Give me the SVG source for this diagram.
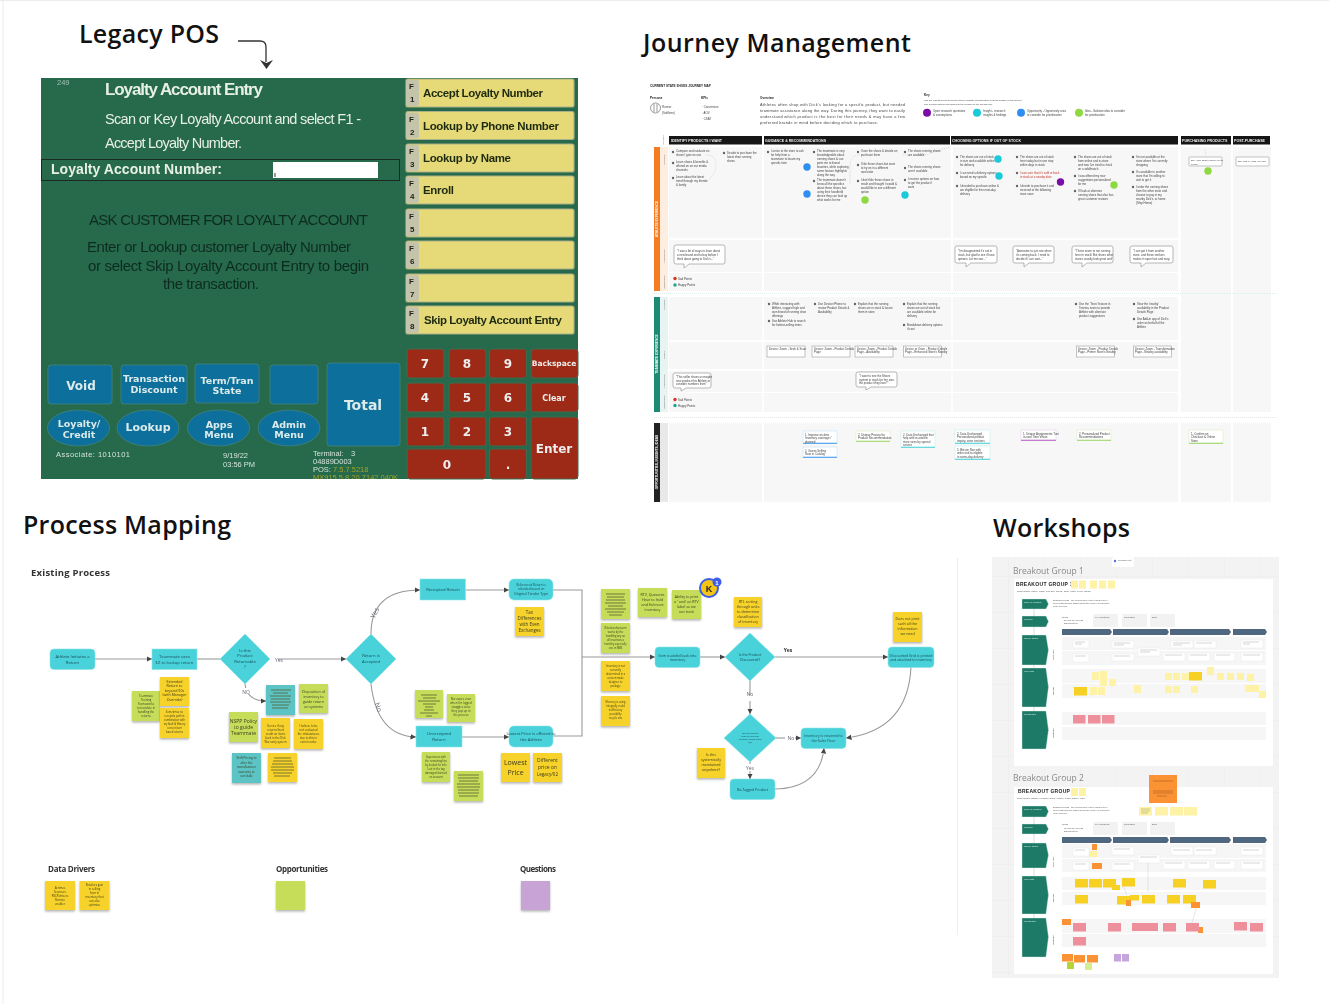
<svg xmlns="http://www.w3.org/2000/svg" width="1329" height="1004" viewBox="0 0 1329 1004">
<defs>
<filter id="b" x="-2%" y="-2%" width="104%" height="104%"><feGaussianBlur stdDeviation="0.35"/></filter>
<filter id="b2" x="-2%" y="-2%" width="104%" height="104%"><feGaussianBlur stdDeviation="0.25"/></filter>
<filter id="sh" x="-20%" y="-20%" width="140%" height="150%"><feDropShadow dx="0" dy="1.5" stdDeviation="1" flood-color="#000" flood-opacity=".3"/></filter>
<marker id="ah" markerWidth="6" markerHeight="6" refX="5" refY="3" orient="auto"><path d="M0 0.5L5 3L0 5.5z" fill="#444"/></marker>
<marker id="ah2" markerWidth="4" markerHeight="4" refX="3" refY="2" orient="auto"><path d="M0 0L4 2L0 4z" fill="#333"/></marker>
<clipPath id="wclip"><rect x="992" y="557" width="287" height="421"/></clipPath>
<clipPath id="posclip"><rect x="41" y="78" width="537" height="401"/></clipPath>
<pattern id="grid" width="36" height="36" patternUnits="userSpaceOnUse"><path d="M36 0H0V36" fill="none" stroke="#e6e6e6" stroke-width=".7"/></pattern>
</defs>
<style>
text{font-family:"Liberation Sans",Arial,sans-serif}
.h{font-family:"Open Sans","Liberation Sans",sans-serif;font-weight:600;font-size:25px;fill:#111}
.sub{font-family:"Open Sans","Liberation Sans",sans-serif;font-weight:700;font-size:8px;fill:#333}
.pl{fill:#e8f0e4;font-size:16px}
.pd{fill:#0f2c20;font-size:15px}
.ft{fill:#d5e4d8;font-size:7.5px}
.fb{fill:#e6da78;stroke:#a9b08a;stroke-width:1.2}
.ftab{fill:#c4c4aa}
.fk{font-weight:700;font-size:8px;fill:#222}
.fl{font-weight:700;font-size:11.5px;fill:#1f2a10}
.bb{fill:#0c6f9c;stroke:#3d7f7a;stroke-width:1}
.bt{font-family:"DejaVu Sans",sans-serif;font-weight:700;font-size:9.5px;fill:#dcebea;text-anchor:middle}
.rb{fill:#9c2a14;stroke:#3f6c52;stroke-width:1}
.rn{font-family:"DejaVu Sans",sans-serif;font-weight:700;font-size:12px;fill:#eee;text-anchor:middle}
.t{font-size:2.9px;fill:#444}
.tb{font-size:3.1px;font-weight:700;fill:#222}
.hd{fill:#141414}
.hdt{font-size:3.6px;font-weight:700;fill:#eee}
.lane{fill:#f7f7f7}
.vl{font-size:3.2px;font-weight:700;fill:#fff;text-anchor:middle}
.vg{font-size:2.4px;fill:#777;text-anchor:middle}
.dot{fill:#666}
.bub{fill:#fff;stroke:#999;stroke-width:.7}
.card{fill:#fff;stroke:#aaa;stroke-width:.7}
.n{fill:#48d2da;stroke:#8ce4e8;stroke-width:.6}
.nt{font-family:"Open Sans","Liberation Sans",sans-serif;font-size:4.2px;fill:#1d4a55;text-anchor:middle}
.nt5{font-family:"Open Sans","Liberation Sans",sans-serif;font-size:5px;fill:#1d4a55;text-anchor:middle}
.sy{fill:#f7d22c;filter:url(#sh)}
.sg{fill:#c6dd5a;filter:url(#sh)}
.st{fill:#5cc4c4;filter:url(#sh)}
.sp{fill:#c8a3d6;filter:url(#sh)}
.so{fill:#ff9c3d;filter:url(#sh)}
.sx{font-family:"Open Sans","Liberation Sans",sans-serif;font-size:3.6px;fill:#3c3c20;text-anchor:middle}
.sx5{font-family:"Open Sans","Liberation Sans",sans-serif;font-size:5px;fill:#3c3c20;text-anchor:middle}
.bars{stroke:#54592a;stroke-width:1;opacity:.75}
.c{fill:none;stroke:#9a9a9a;stroke-width:1.1}
.cl{font-family:"Open Sans","Liberation Sans",sans-serif;font-size:5px;fill:#667;text-anchor:middle}
.gb{fill:#1f7a66;stroke:#d8eee8;stroke-width:.4}
.chev{fill:#50687f}
.row{fill:#f6f6f6}
.wc{fill:#fff;stroke:#e4e4e4;stroke-width:.4}
.ly{fill:#fdf2a6}
.dy{fill:#f6d023}
.pk{fill:#ee8f9c}
.or{fill:#fb9334}
.wt{font-size:2.2px;fill:#555}
.wh{font-size:2px;fill:#d8efe8}
.gt{font-family:"Open Sans","Liberation Sans",sans-serif;font-size:8.5px;fill:#888}
.bk{font-weight:700;font-size:5px;fill:#222;letter-spacing:.3px}
</style>
<rect width="1329" height="1004" fill="#fff"/>
<path d="M3 0V1004M0 .5H1329" stroke="#ececec" fill="none"/>
<path d="M957.500 558V935" stroke="#eeeeee" fill="none"/>

<text id="title-legacy" class="h" x="79" y="43" textLength="140">Legacy POS</text>
<text id="title-journey" class="h" x="643" y="52" textLength="268">Journey Management</text>
<text id="title-process" class="h" x="23" y="534" textLength="208">Process Mapping</text>
<text id="title-workshops" class="h" x="993" y="537" textLength="137">Workshops</text>
<g id="legacy-arrow"><path d="M238 41H260Q266 41 266 47V62" fill="none" stroke="#333" stroke-width="1.3"/><path d="M260 60L266.500 69L273 60L266.500 63z" fill="#333"/></g>

<g id="pos-screen" filter="url(#b)">
<rect x="41" y="78" width="537" height="401" fill="#25694b"/>
<text x="57" y="85" class="ft" fill-opacity=".7">249</text>
<text x="105" y="95" class="pl" font-weight="700" textLength="158" style="font-size:17px">Loyalty Account Entry</text>
<text x="105" y="124" class="pl" textLength="256" style="font-size:14.500px">Scan or Key Loyalty Account and select F1 -</text>
<text x="105" y="148" class="pl" textLength="137" style="font-size:14.500px">Accept Loyalty Number.</text>
<rect x="41.500" y="159.500" width="358" height="21" fill="none" stroke="#1c2a24" stroke-width="1"/>
<text x="51" y="174" class="pl" font-weight="700" textLength="171" style="font-size:14px">Loyalty Account Number:</text>
<rect x="273" y="162" width="105" height="16" fill="#fff"/><path d="M275 173V177" stroke="#333"/>
<text x="89" y="225" class="pd" textLength="279">ASK CUSTOMER FOR LOYALTY ACCOUNT</text>
<text x="87" y="252" class="pd" textLength="264">Enter or Lookup customer Loyalty Number</text>
<text x="88" y="271" class="pd" textLength="281">or select Skip Loyalty Account Entry to begin</text>
<text x="163" y="289" class="pd" textLength="96">the transaction.</text>
<text x="56" y="457" class="ft" textLength="74">Associate: 1010101</text>
<text x="223" y="458" class="ft">9/19/22</text><text x="223" y="467" class="ft">03:56 PM</text>
<text x="313" y="456" class="ft">Terminal:</text><text x="351" y="456" class="ft">3</text>
<text x="313" y="464" class="ft">04889D003</text>
<text x="313" y="472" class="ft">POS:</text><text x="333" y="472" class="ft" style="fill:#a3a32a">7.5.7.5218</text>
<text x="313" y="480" class="ft" style="fill:#a3a32a" clip-path="url(#posclip)">MX915 5.8.20.7142.040K</text>

<g id="f1"><rect class="fb" x="406" y="79" width="168" height="28" rx="2"/><rect class="ftab" x="406" y="80" width="13" height="26" rx="2"/><text class="fk" x="409" y="89">F</text><text class="fk" x="410" y="102">1</text><text class="fl" x="423" y="97" textLength="120">Accept Loyalty Number</text></g>
<g id="f2"><rect class="fb" x="406" y="111.500" width="168" height="28" rx="2"/><rect class="ftab" x="406" y="112.500" width="13" height="26" rx="2"/><text class="fk" x="409" y="121.500">F</text><text class="fk" x="410" y="134.500">2</text><text class="fl" x="423" y="130" textLength="136">Lookup by Phone Number</text></g>
<g id="f3"><rect class="fb" x="406" y="144" width="168" height="28" rx="2"/><rect class="ftab" x="406" y="145" width="13" height="26" rx="2"/><text class="fk" x="409" y="154">F</text><text class="fk" x="410" y="167">3</text><text class="fl" x="423" y="162" textLength="88">Lookup by Name</text></g>
<g id="f4"><rect class="fb" x="406" y="176" width="168" height="28" rx="2"/><rect class="ftab" x="406" y="177" width="13" height="26" rx="2"/><text class="fk" x="409" y="186">F</text><text class="fk" x="410" y="199">4</text><text class="fl" x="423" y="194" textLength="31">Enroll</text></g>
<g id="f5"><rect class="fb" x="406" y="209" width="168" height="28" rx="2"/><rect class="ftab" x="406" y="210" width="13" height="26" rx="2"/><text class="fk" x="409" y="219">F</text><text class="fk" x="410" y="232">5</text></g>
<g id="f6"><rect class="fb" x="406" y="241" width="168" height="28" rx="2"/><rect class="ftab" x="406" y="242" width="13" height="26" rx="2"/><text class="fk" x="409" y="251">F</text><text class="fk" x="410" y="264">6</text></g>
<g id="f7"><rect class="fb" x="406" y="274" width="168" height="28" rx="2"/><rect class="ftab" x="406" y="275" width="13" height="26" rx="2"/><text class="fk" x="409" y="284">F</text><text class="fk" x="410" y="297">7</text></g>
<g id="f8"><rect class="fb" x="406" y="306" width="168" height="28" rx="2"/><rect class="ftab" x="406" y="307" width="13" height="26" rx="2"/><text class="fk" x="409" y="316">F</text><text class="fk" x="410" y="329">8</text><text class="fl" x="424" y="324" textLength="138">Skip Loyalty Account Entry</text></g>

<g id="btn-void"><rect class="bb" x="48" y="365" width="64" height="39" rx="3"/><text class="bt" x="81" y="390" style="font-size:12px">Void</text></g>
<g id="btn-discount"><rect class="bb" x="121" y="365" width="66" height="39" rx="3"/><text class="bt" x="154" y="382">Transaction</text><text class="bt" x="154" y="393">Discount</text></g>
<g id="btn-term"><rect class="bb" x="195" y="364" width="64" height="39" rx="3"/><text class="bt" x="227" y="384">Term/Tran</text><text class="bt" x="227" y="394">State</text></g>
<g id="btn-blank"><rect class="bb" x="270" y="365" width="48" height="39" rx="3"/></g>
<g id="btn-total"><rect class="bb" x="327" y="363" width="73" height="83" rx="3"/><text class="bt" x="363" y="410" style="font-size:14px">Total</text></g>
<g id="btn-loyalty"><ellipse class="bb" cx="78.500" cy="428" rx="31" ry="18"/><text class="bt" x="79" y="427">Loyalty/</text><text class="bt" x="79" y="438">Credit</text></g>
<g id="btn-lookup"><ellipse class="bb" cx="148" cy="428" rx="31" ry="18"/><text class="bt" x="148" y="431" style="font-size:11px">Lookup</text></g>
<g id="btn-apps"><ellipse class="bb" cx="218.500" cy="428" rx="31" ry="18"/><text class="bt" x="219" y="428">Apps</text><text class="bt" x="219" y="438">Menu</text></g>
<g id="btn-admin"><ellipse class="bb" cx="289" cy="428" rx="31" ry="18"/><text class="bt" x="289" y="428">Admin</text><text class="bt" x="289" y="438">Menu</text></g>

<g id="keypad">
<rect class="rb" x="407" y="349" width="37" height="29" rx="3"/><text class="rn" x="425" y="368">7</text>
<rect class="rb" x="449" y="349" width="37" height="29" rx="3"/><text class="rn" x="467" y="368">8</text>
<rect class="rb" x="489.500" y="349" width="37" height="29" rx="3"/><text class="rn" x="508" y="368">9</text>
<rect class="rb" x="531" y="349" width="47" height="29" rx="3"/><text class="rn" x="554" y="366" style="font-size:7.500px" >Backspace</text>
<rect class="rb" x="407" y="383" width="37" height="29" rx="3"/><text class="rn" x="425" y="402">4</text>
<rect class="rb" x="449" y="383" width="37" height="29" rx="3"/><text class="rn" x="467" y="402">5</text>
<rect class="rb" x="489.500" y="383" width="37" height="29" rx="3"/><text class="rn" x="508" y="402">6</text>
<rect class="rb" x="531" y="383" width="47" height="29" rx="3"/><text class="rn" x="554" y="401" style="font-size:8px">Clear</text>
<rect class="rb" x="407" y="417" width="37" height="29" rx="3"/><text class="rn" x="425" y="436">1</text>
<rect class="rb" x="449" y="417" width="37" height="29" rx="3"/><text class="rn" x="467" y="436">2</text>
<rect class="rb" x="489.500" y="417" width="37" height="29" rx="3"/><text class="rn" x="508" y="436">3</text>
<rect class="rb" x="531" y="417" width="47" height="62" rx="3"/><text class="rn" x="554" y="453">Enter</text>
<rect class="rb" x="407" y="449" width="79" height="30" rx="3"/><text class="rn" x="447" y="469">0</text>
<rect class="rb" x="489.500" y="449" width="37" height="30" rx="3"/><text class="rn" x="508" y="469">.</text>
</g>
</g>

<g id="journey" filter="url(#b)">
<text class="tb" x="650" y="87">CURRENT STATE SHOES JOURNEY MAP</text>
<text class="tb" x="650" y="98.500">Persona</text><text class="tb" x="701" y="98.500">KPIs</text><text class="tb" x="760" y="98.500">Overview</text><text class="tb" x="924" y="95.500">Key</text>
<circle cx="655.500" cy="108" r="5" fill="#fff" stroke="#555" stroke-width=".6"/><path d="M654 104V112M657 104V112" stroke="#555" stroke-width=".6"/>
<text class="t" x="662" y="108">Runner</text><text class="t" x="662" y="114">(Softlines)</text>
<text class="t" x="702" y="108">· Conversion</text><text class="t" x="702" y="114">· AOV</text><text class="t" x="702" y="120">· CSAT</text>
<g class="t" style="font-size:3.900px"><text x="760" y="106" textLength="145">Athletes often shop with Dick's looking for a specific product, but needed</text><text x="760" y="111.500" textLength="145">teammate assistance along the way. During this journey, they want to easily</text><text x="760" y="117.500" textLength="145">understand which product is the best for their needs &amp; may have a few</text><text x="760" y="123.500" textLength="118">preferred brands in mind before deciding which to purchase.</text></g>
<text class="t" x="924" y="100.500" style="font-size:2.400px">Use the visuals below to denote where insights, opportunities, &amp; ideas surface in this journey.</text>
<text class="t" x="924" y="104.500" style="font-size:2.400px">The number should correspond to the number in the specific box.</text>
<circle cx="927" cy="112.700" r="4" fill="#7a0ea8"/><text class="t" x="933" y="112">Open research questions</text><text class="t" x="933" y="116">&amp; assumptions</text>
<circle cx="977" cy="112.700" r="4" fill="#1dc9d8"/><text class="t" x="983" y="112">Insight - research</text><text class="t" x="983" y="116">insights &amp; findings</text>
<circle cx="1021" cy="112.700" r="4" fill="#2f8ff0"/><text class="t" x="1027" y="112">Opportunity - Opportunity area</text><text class="t" x="1027" y="116">to consider for prioritization</text>
<circle cx="1079" cy="112.700" r="4" fill="#8ed840"/><text class="t" x="1085" y="112">Idea - Solution idea to consider</text><text class="t" x="1085" y="116">for prioritization</text>

<rect class="hd" x="669" y="136" width="93" height="8.500"/><text class="hdt" x="671" y="141.800">IDENTIFY PRODUCTS I WANT</text>
<rect class="hd" x="764" y="136" width="186" height="8.500"/><text class="hdt" x="765" y="141.800">GUIDANCE &amp; RECOMMENDATIONS</text>
<rect class="hd" x="951" y="136" width="227" height="8.500"/><text class="hdt" x="952" y="141.800">CHOOSING OPTIONS IF OUT OF STOCK</text>
<rect class="hd" x="1181" y="136" width="50" height="8.500"/><text class="hdt" x="1182" y="141.800">PURCHASING PRODUCTS</text>
<rect class="hd" x="1233" y="136" width="37" height="8.500"/><text class="hdt" x="1234" y="141.800">POST-PURCHASE</text>
<text class="vg" transform="translate(664 140)rotate(-90)">STAGES</text>

<rect x="654" y="147" width="6" height="144" fill="#f47b20"/><rect x="660" y="147" width="8" height="144" fill="#fdeee0"/>
<text class="vl" transform="translate(658.200 219)rotate(-90)">ATHLETE EXPERIENCE</text>
<text class="vg" transform="translate(665 160)rotate(-90)">ACTIONS</text><text class="vg" transform="translate(665 256)rotate(-90)">THOUGHTS</text><text class="vg" transform="translate(665 282)rotate(-90)">EMOTIONS</text>
<rect class="lane" x="669" y="147" width="93" height="91"/><rect class="lane" x="764" y="147" width="187" height="91"/><rect class="lane" x="953" y="147" width="225" height="91"/>
<rect class="lane" x="669" y="240" width="93" height="32"/><rect class="lane" x="764" y="240" width="187" height="32"/><rect class="lane" x="953" y="240" width="225" height="32"/>
<rect class="lane" x="669" y="273" width="93" height="18"/><rect class="lane" x="764" y="273" width="187" height="18"/><rect class="lane" x="953" y="273" width="225" height="18"/>
<rect class="lane" x="1181" y="147" width="50" height="265"/><rect class="lane" x="1233" y="147" width="38" height="265"/>
<path d="M654 293.500H1277" stroke="#cfe6de" stroke-width=".7" stroke-dasharray="1 1"/>
<path d="M654 417.500H1277" stroke="#ddd" stroke-width=".7" stroke-dasharray="1 1"/>

<g fill="none" stroke="#bbb" stroke-width=".5" stroke-dasharray="1 1"><path d="M706 155Q716 155 716 165T706 182"/><path d="M860 155Q850 155 850 165V185"/><path d="M903 155H925L950 147"/><path d="M1205 150L1206 156"/></g>
<g id="j-actions">
<circle class="dot" cx="673" cy="152" r="1.200"/><text class="t" x="676" y="152">Compare and evaluate on</text><text class="t" x="676" y="156">shoes I gain on use</text>
<circle class="dot" cx="673" cy="163" r="1.200"/><text class="t" x="676" y="163">Learn shoes &amp; benefits &amp;</text><text class="t" x="676" y="167">offered on on our media</text><text class="t" x="676" y="171">channels</text>
<circle class="dot" cx="673" cy="178" r="1.200"/><text class="t" x="676" y="178">Learn about the latest</text><text class="t" x="676" y="182">trend through my friends</text><text class="t" x="676" y="186">&amp; family</text>
<circle class="dot" cx="724" cy="153" r="1.200"/><text class="t" x="727" y="154">Decide to purchase the</text><text class="t" x="727" y="158">latest shoe running</text><text class="t" x="727" y="162">shoes</text>
<circle class="dot" cx="768" cy="152" r="1.200"/><text class="t" x="771" y="152">I arrive at the store to ask</text><text class="t" x="771" y="156">for help from a</text><text class="t" x="771" y="160">teammate to locate my</text><text class="t" x="771" y="164">specific item</text>
<circle class="dot" cx="814" cy="152" r="1.200"/><text class="t" x="817" y="152">The teammate is very</text><text class="t" x="817" y="156">knowledgeable about</text><text class="t" x="817" y="160">running shoes &amp; can</text><text class="t" x="817" y="164">point me to brand</text><text class="t" x="817" y="168">favorites, while exploring</text><text class="t" x="817" y="172">some feature highlights</text><text class="t" x="817" y="176">along the way</text>
<circle class="dot" cx="814" cy="181" r="1.200"/><text class="t" x="817" y="181">The teammate doesn't</text><text class="t" x="817" y="185">know all the specifics</text><text class="t" x="817" y="189">about these shoes, but</text><text class="t" x="817" y="193">using their handheld</text><text class="t" x="817" y="197">device they can look up</text><text class="t" x="817" y="201">what works for me</text>
<circle class="dot" cx="858" cy="152" r="1.200"/><text class="t" x="861" y="152">I love the shoes &amp; decide on</text><text class="t" x="861" y="156">purchase them</text>
<circle class="dot" cx="858" cy="165" r="1.200"/><text class="t" x="861" y="165">I like these shoes but want</text><text class="t" x="861" y="169">to try on in a different</text><text class="t" x="861" y="173">size/color</text>
<circle class="dot" cx="858" cy="181" r="1.200"/><text class="t" x="861" y="181">I don't like these shoes in</text><text class="t" x="861" y="185">result and thought I would &amp;</text><text class="t" x="861" y="189">would like to see a different</text><text class="t" x="861" y="193">option</text>
<circle class="dot" cx="905" cy="152" r="1.200"/><text class="t" x="908" y="152">The shoes running shoes</text><text class="t" x="908" y="156">are available</text>
<circle class="dot" cx="905" cy="168" r="1.200"/><text class="t" x="908" y="168">The shoes running shoes</text><text class="t" x="908" y="172">aren't available</text>
<circle class="dot" cx="905" cy="180" r="1.200"/><text class="t" x="908" y="180">I receive options on how</text><text class="t" x="908" y="184">to get the product I</text><text class="t" x="908" y="188">want</text>
<circle class="dot" cx="957" cy="157" r="1.200"/><text class="t" x="960" y="158">The shoes are out of stock</text><text class="t" x="960" y="162">in size and available online</text><text class="t" x="960" y="166">for delivery</text>
<circle class="dot" cx="957" cy="173" r="1.200"/><text class="t" x="960" y="174">I can send a delivery options</text><text class="t" x="960" y="178">based on my specific</text>
<circle class="dot" cx="957" cy="186" r="1.200"/><text class="t" x="960" y="187">I decided to purchase online &amp;</text><text class="t" x="960" y="191">am eligible for free next-day</text><text class="t" x="960" y="195">delivery</text>
<circle class="dot" cx="1017" cy="157" r="1.200"/><text class="t" x="1020" y="158">The shoes are out of stock</text><text class="t" x="1020" y="162">here today but in one stop</text><text class="t" x="1020" y="166">within days in stock</text>
<circle class="dot" cx="1017" cy="173" r="1.200"/><text class="t" x="1020" y="174" style="fill:#c0392b">I was sure that it's sold or back</text><text class="t" x="1020" y="178" style="fill:#c0392b">in stock at a nearby date</text>
<circle class="dot" cx="1017" cy="186" r="1.200"/><text class="t" x="1020" y="187">I decide to purchase it and</text><text class="t" x="1020" y="191">received at the following</text><text class="t" x="1020" y="195">store soon</text>
<circle class="dot" cx="1075" cy="157" r="1.200"/><text class="t" x="1078" y="158">The shoes are out of stock</text><text class="t" x="1078" y="162">from online and in-store</text><text class="t" x="1078" y="166">and now I've tried to check</text><text class="t" x="1078" y="170">on a sold/match</text>
<circle class="dot" cx="1075" cy="176" r="1.200"/><text class="t" x="1078" y="177">I was offered my new</text><text class="t" x="1078" y="181">suggestions personalized</text><text class="t" x="1078" y="185">for me</text>
<circle class="dot" cx="1075" cy="191" r="1.200"/><text class="t" x="1078" y="192">I'll look at alternate</text><text class="t" x="1078" y="196">running shoes that also has</text><text class="t" x="1078" y="200">great customer reviews</text>
<circle class="dot" cx="1133" cy="157" r="1.200"/><text class="t" x="1136" y="158">I'm not available at the</text><text class="t" x="1136" y="162">store where I'm currently</text><text class="t" x="1136" y="166">shopping</text>
<circle class="dot" cx="1133" cy="172" r="1.200"/><text class="t" x="1136" y="173">It's available in another</text><text class="t" x="1136" y="177">store that I'm willing to</text><text class="t" x="1136" y="181">visit to get it</text>
<circle class="dot" cx="1133" cy="187" r="1.200"/><text class="t" x="1136" y="188">I order the running shoes</text><text class="t" x="1136" y="192">from the other store and</text><text class="t" x="1136" y="196">choose to pay in my</text><text class="t" x="1136" y="200">nearby Dick's, or home</text><text class="t" x="1136" y="204">(Ship Home)</text>
<rect class="card" x="1189" y="157" width="33" height="9" rx="1"/><text class="t" x="1191" y="161" style="font-size:2.500px">Buy "The Best in-store I'm so</text><text class="t" x="1191" y="164.500" style="font-size:2.500px">loving</text>
<rect class="card" x="1236" y="157" width="33" height="9" rx="1"/><text class="t" x="1238" y="162" style="font-size:2.500px">Buy and in "This you use"</text>
</g>
<g id="j-badges">
<circle cx="807" cy="167" r="3.700" fill="#2f8ff0"/><circle cx="807" cy="194" r="3.700" fill="#2f8ff0"/><circle cx="865" cy="200" r="3.700" fill="#8ed840"/><circle cx="905" cy="195" r="3.700" fill="#1dc9d8"/><circle cx="998" cy="159" r="3.700" fill="#1dc9d8"/><circle cx="999" cy="176" r="3.700" fill="#1dc9d8"/><circle cx="1060.500" cy="182" r="3.700" fill="#7a0ea8"/><circle cx="1114" cy="185" r="3.700" fill="#8ed840"/><circle cx="1208" cy="171" r="3.700" fill="#8ed840"/>
</g>
<g id="j-bubbles">
<path class="bub" d="M676 245H723Q725 245 725 247V262Q725 264 723 264H689L684 268V264H676Q674 264 674 262V247Q674 245 676 245z"/><text class="t" x="677" y="252">"I was a bit of ways to learn about</text><text class="t" x="677" y="256">a new brand and to buy before I</text><text class="t" x="677" y="260">think about going to Dick's..."</text>
<path class="bub" d="M957 246H995Q997 246 997 248V261Q997 263 995 263H971L966 267V263H957Q955 263 955 261V248Q955 246 957 246z"/><text class="t" x="958" y="252">"I'm disappointed it's not in</text><text class="t" x="958" y="256">stock, but glad to see if have</text><text class="t" x="958" y="260">options. Let me see..."</text>
<path class="bub" d="M1015 246H1052Q1054 246 1054 248V261Q1054 263 1052 263H1029L1024 267V263H1015Q1013 263 1013 261V248Q1013 246 1015 246z"/><text class="t" x="1016" y="252">"Awesome to just see when</text><text class="t" x="1016" y="256">it's coming back. I need to</text><text class="t" x="1016" y="260">decide if I can wait..."</text>
<path class="bub" d="M1074 246H1111Q1113 246 1113 248V261Q1113 263 1111 263H1087L1082 267V263H1074Q1072 263 1072 261V248Q1072 246 1074 246z"/><text class="t" x="1075" y="252">"These seem to not running</text><text class="t" x="1075" y="256">here in stock! But shoes other</text><text class="t" x="1075" y="260">stores usually look great and"</text>
<path class="bub" d="M1132 246H1171Q1173 246 1173 248V261Q1173 263 1171 263H1146L1141 267V263H1132Q1130 263 1130 261V248Q1130 246 1132 246z"/><text class="t" x="1133" y="252">"I can get it from another</text><text class="t" x="1133" y="256">store. and these seekers</text><text class="t" x="1133" y="260">makes it super fast and easy</text>
</g>
<circle cx="675" cy="278.500" r="1.700" fill="#d8341f"/><text class="t" x="678" y="279.500">Sad Points</text>
<circle cx="675" cy="285" r="1.700" fill="#1aa88e"/><text class="t" x="678" y="286">Happy Points</text>

<rect x="654" y="297" width="6" height="115" fill="#1f8a74"/><rect x="660" y="297" width="8" height="115" fill="#e8f4f2"/>
<text class="vl" transform="translate(658.200 354)rotate(-90)">TEAMMATE EXPERIENCE</text>
<text class="vg" transform="translate(665 305)rotate(-90)">ACTIONS</text><text class="vg" transform="translate(665 355)rotate(-90)">TOOLS</text><text class="vg" transform="translate(665 381)rotate(-90)">THOUGHTS</text><text class="vg" transform="translate(665 402)rotate(-90)">EMOTIONS</text>
<rect class="lane" x="669" y="297" width="509" height="43"/><rect class="lane" x="669" y="342" width="509" height="27"/><rect x="669" y="371" width="509" height="21" class="lane"/><rect class="lane" x="669" y="393" width="509" height="19"/>
<path d="M763 297V412M952 297V412" stroke="#fff" stroke-width="1.500"/>
<g id="j-teammate">
<circle class="dot" cx="769" cy="304" r="1.200"/><text class="t" x="772" y="305">While interacting with</text><text class="t" x="772" y="309">Athlete, suggest high and</text><text class="t" x="772" y="313">own brand of running shoe</text><text class="t" x="772" y="317">offerings</text>
<circle class="dot" cx="769" cy="321" r="1.200"/><text class="t" x="772" y="322">Use Athlete Hub to search</text><text class="t" x="772" y="326">for hottest-selling items</text>
<circle class="dot" cx="815" cy="304" r="1.200"/><text class="t" x="818" y="305">Use Device iPhone to</text><text class="t" x="818" y="309">review Product Details &amp;</text><text class="t" x="818" y="313">Availability</text>
<circle class="dot" cx="855" cy="304" r="1.200"/><text class="t" x="858" y="305">Explain that the running</text><text class="t" x="858" y="309">shoes are in stock &amp; locate</text><text class="t" x="858" y="313">them in store</text>
<circle class="dot" cx="904" cy="304" r="1.200"/><text class="t" x="907" y="305">Explain that the running</text><text class="t" x="907" y="309">shoes are out of stock but</text><text class="t" x="907" y="313">are available online for</text><text class="t" x="907" y="317">delivery</text>
<circle class="dot" cx="904" cy="325" r="1.200"/><text class="t" x="907" y="326">Breakdown delivery options</text><text class="t" x="907" y="330">if cost</text>
<circle class="dot" cx="1076" cy="304" r="1.200"/><text class="t" x="1079" y="305">Use the 'Tesis' feature in</text><text class="t" x="1079" y="309">Tesistra seats to provide</text><text class="t" x="1079" y="313">Athlete with alternate</text><text class="t" x="1079" y="317">product suggestions</text>
<circle class="dot" cx="1134" cy="304" r="1.200"/><text class="t" x="1137" y="305">View the 'nearby'</text><text class="t" x="1137" y="309">availability in the Product</text><text class="t" x="1137" y="313">Details Page</text>
<circle class="dot" cx="1134" cy="319" r="1.200"/><text class="t" x="1137" y="320">Use Add-in app of Dick's</text><text class="t" x="1137" y="324">order on behalf of the</text><text class="t" x="1137" y="328">Athlete</text>
<rect class="card" x="767" y="346" width="38" height="11"/><text class="t" x="769" y="349.500">Device: Zoom - Seek &amp; Scan</text>
<rect class="card" x="812" y="346" width="38" height="11"/><text class="t" x="814" y="349.500">Device: Zoom - Product Details</text><text class="t" x="814" y="353">Page</text>
<rect class="card" x="855" y="346" width="38" height="11"/><text class="t" x="857" y="349.500">Device: Zoom - Product Details</text><text class="t" x="857" y="353">Page - Availability</text>
<rect class="card" x="903.500" y="346" width="38" height="11"/><text class="t" x="905" y="349.500">Device or Orion - Product Details</text><text class="t" x="905" y="353">Page - Enhanced Store's Nearby</text>
<rect class="card" x="1076.500" y="346" width="38" height="11"/><text class="t" x="1078" y="349.500">Device: Zoom - Product Details</text><text class="t" x="1078" y="353">Page - Primer Store's Nearby</text>
<rect class="card" x="1133.500" y="346" width="38" height="11"/><text class="t" x="1135" y="349.500">Device: Zoom - Transformation</text><text class="t" x="1135" y="353">Page - Nearby availability</text>
<path class="bub" d="M675 373H709Q711 373 711 375V386Q711 388 709 388H686L681 391V388H675Q673 388 673 386V375Q673 373 675 373z"/><text class="t" x="676" y="378">"This seller shoes as maybe</text><text class="t" x="676" y="381.500">new product this Athlete or</text><text class="t" x="676" y="385">consider numbers from"</text>
<path class="bub" d="M858 372H895Q897 372 897 374V385Q897 387 895 387H871L866 390V387H858Q856 387 856 385V374Q856 372 858 372z"/><text class="t" x="859" y="377">"I want to see the Shoes</text><text class="t" x="859" y="380.500">system in stock for her size.</text><text class="t" x="859" y="384">the product they love?"</text>
</g>
<circle cx="675" cy="399.500" r="1.700" fill="#d8341f"/><text class="t" x="678" y="400.500">Sad Points</text>
<circle cx="675" cy="405.500" r="1.700" fill="#1aa88e"/><text class="t" x="678" y="406.500">Happy Points</text>

<rect x="654" y="423" width="6" height="79" fill="#222"/><rect x="660" y="423" width="8" height="79" fill="#e8e8e8"/>
<text class="vl" transform="translate(658.200 462)rotate(-90)">OPPORTUNITIES, INSIGHTS, IDEAS</text>
<rect class="lane" x="669" y="423" width="93" height="79"/><rect class="lane" x="764" y="423" width="414" height="79"/><rect class="lane" x="1181" y="423" width="50" height="79"/><rect class="lane" x="1233" y="423" width="38" height="79"/>
<g id="j-cards">
<rect x="803" y="431" width="34" height="12" fill="#fff" stroke="#b8dcf8" stroke-width=".5"/><path d="M803 443.300H837" stroke="#3e9cf0" stroke-width="1"/><text class="t" x="805" y="435.500">1. Improve on-time</text><text class="t" x="805" y="439">Inventory coverage /</text><text class="t" x="805" y="442.500">planned</text>
<rect x="803" y="447" width="34" height="10" fill="#fff" stroke="#b8dcf8" stroke-width=".5"/><path d="M803 457.300H837" stroke="#3e9cf0" stroke-width="1"/><text class="t" x="805" y="451.500">2. Guess Selling</text><text class="t" x="805" y="455">Rate in Catalog</text>
<rect x="856" y="431" width="34" height="10" fill="#fff" stroke="#d4ecb8" stroke-width=".5"/><path d="M856 441.300H890" stroke="#9cd66a" stroke-width="1"/><text class="t" x="858" y="435.500">2. Unique Privacy for</text><text class="t" x="858" y="439">Product Recommendation</text>
<rect x="901" y="431" width="34" height="16" fill="#fff" stroke="#b8eef0" stroke-width=".5"/><path d="M901 447.300H935" stroke="#48d2da" stroke-width="1"/><text class="t" x="903" y="435.500">2. Data Unchanged that</text><text class="t" x="903" y="439">help with in-store/in</text><text class="t" x="903" y="442.500">store sizes by special</text><text class="t" x="903" y="446">service</text>
<rect x="955" y="430" width="35" height="13" fill="#fff" stroke="#b8eef0" stroke-width=".5"/><path d="M955 443.300H990" stroke="#48d2da" stroke-width="1"/><text class="t" x="957" y="434.500">2. Data Unchanged</text><text class="t" x="957" y="438">Personalized product</text><text class="t" x="957" y="441.500">inquiry, zone sections</text>
<rect x="955" y="446" width="35" height="13" fill="#fff" stroke="#b8eef0" stroke-width=".5"/><path d="M955 459.300H990" stroke="#48d2da" stroke-width="1"/><text class="t" x="957" y="450.500">5. Bitcoin Ran with</text><text class="t" x="957" y="454">order and to eligible</text><text class="t" x="957" y="457.500">in same-day delivery</text>
<rect x="1021" y="430" width="35" height="10" fill="#fff" stroke="#e4c4ec" stroke-width=".5"/><path d="M1021 440.300H1056" stroke="#b562c9" stroke-width="1"/><text class="t" x="1023" y="434.500">1. Unique Assignments Turn</text><text class="t" x="1023" y="438">in-seat Time Vision</text>
<rect x="1077" y="430" width="34" height="10" fill="#fff" stroke="#d4ecb8" stroke-width=".5"/><path d="M1077 440.300H1111" stroke="#9cd66a" stroke-width="1"/><text class="t" x="1079" y="434.500">2. Personalized Product</text><text class="t" x="1079" y="438">Recommendations</text>
<rect x="1189" y="430" width="34" height="13" fill="#fff" stroke="#d4ecb8" stroke-width=".5"/><path d="M1189 443.300H1223" stroke="#9cd66a" stroke-width="1"/><text class="t" x="1191" y="434.500">1. Confirm on</text><text class="t" x="1191" y="438">Checkout &amp; Online</text><text class="t" x="1191" y="441.500">Store</text>
</g>
</g>

<g id="process" filter="url(#b2)">
<text class="sub" x="31" y="576" textLength="79" style="font-size:9.500px">Existing Process</text>
<g id="connectors">
<path class="c" d="M95 659H152" marker-end="url(#ah)"/>
<path class="c" d="M197 659H220"/>
<path class="c" d="M270 659H346" marker-end="url(#ah)"/>
<path class="c" d="M245 684Q247 701 266 701" marker-end="url(#ah)"/>
<path class="c" d="M371 634Q371 590 420 590" marker-end="url(#ah)"/>
<path class="c" d="M371 684Q377 736 416 737" marker-end="url(#ah)"/>
<path class="c" d="M466 590H509" marker-end="url(#ah)"/>
<path class="c" d="M553 590H582V736H553"/>
<path class="c" d="M462 737H509" marker-end="url(#ah)"/>
<path class="c" d="M582 657H655" marker-end="url(#ah)"/>
<path class="c" d="M700 657H725" marker-end="url(#ah)"/>
<path class="c" d="M775 657H888" marker-end="url(#ah)"/>
<path class="c" d="M750 681V714" marker-end="url(#ah)"/>
<path class="c" d="M776 738H801" marker-end="url(#ah)"/>
<path class="c" d="M750 762V779" marker-end="url(#ah)"/>
<path class="c" d="M911 667Q908 730 846 738" marker-end="url(#ah)"/>
<path class="c" d="M775 789Q820 788 824 748" marker-end="url(#ah)"/>
<g class="cl"><rect x="263" y="656" width="15" height="6" fill="#fff"/><text x="279" y="661.500" class="cl">Yes</text>
<rect x="241" y="688" width="9" height="6" fill="#fff"/><text x="246" y="693.500" class="cl">NO</text>
<text class="cl" transform="translate(377 614)rotate(-65)" style="font-size:7px">Yes</text>
<text class="cl" transform="translate(376 708)rotate(70)" style="font-size:7px">No</text>
<rect x="745" y="695" width="9" height="6" fill="#fff"/><text x="750" y="696" class="cl">No</text>
<rect x="785" y="734" width="10" height="7" fill="#fff"/><text x="791" y="740" class="cl">No</text>
<rect x="745" y="764" width="10" height="7" fill="#fff"/><text x="750" y="770" class="cl">Yes</text>
<text x="788" y="652" class="cl" style="font-weight:700;fill:#333">Yes</text></g>
</g>
<g id="n-athlete"><rect class="n" x="50" y="649" width="45" height="20.500" rx="4"/><text class="nt" x="72.500" y="658">Athlete Initiates a</text><text class="nt" x="72.500" y="664">Return</text></g>
<g id="n-teammate"><rect class="n" x="152" y="649" width="45" height="20.500"/><text class="nt" x="174.500" y="657.500">Teammate uses</text><text class="nt" x="174.500" y="664">EZ to lookup return</text></g>
<g id="d-returnable"><path class="n" d="M245 634L270 659L245 684L220 659z"/><text class="nt" x="245" y="652">Is this</text><text class="nt" x="245" y="657">Product</text><text class="nt" x="245" y="663">Returnable</text><text class="nt" x="245" y="668">?</text></g>
<g id="d-accepted"><path class="n" d="M371 634L396 659L371 684L346 659z"/><text class="nt" x="371" y="657">Return is</text><text class="nt" x="371" y="663">Accepted</text></g>
<g id="n-receipted"><rect class="n" x="420" y="579" width="45.500" height="21"/><text class="nt" x="443" y="591">Receipted Return</text></g>
<g id="n-refund"><rect class="n" x="509" y="579" width="44" height="21" rx="5"/><text class="nt" x="531" y="586" style="font-size:3px">Referenced Return is</text><text class="nt" x="531" y="590" style="font-size:3px">refunded based on</text><text class="nt" x="531" y="595" style="font-size:3.500px">Original Tender Type</text></g>
<g id="n-unreceipted"><rect class="n" x="416" y="726" width="46" height="21"/><text class="nt" x="439" y="735">Unreceipted</text><text class="nt" x="439" y="741">Return</text></g>
<g id="n-lowest"><rect class="n" x="509" y="726" width="44" height="21" rx="5"/><text class="nt" x="531" y="735">Lowest Price is offered to</text><text class="nt" x="531" y="741">the Athlete</text></g>
<g id="n-item"><rect class="n" x="655" y="647" width="45" height="20.500" rx="4"/><text class="nt" x="677.500" y="656.500" style="font-size:3.500px">Item is added back into</text><text class="nt" x="677.500" y="660.500" style="font-size:3.500px">inventory</text></g>
<g id="d-discount"><path class="n" d="M750 633L775 657L750 681L725 657z"/><text class="nt" x="750" y="656" style="font-size:3.500px">Is the Product</text><text class="nt" x="750" y="660.500" style="font-size:3.500px">Discounted?</text></g>
<g id="n-grid"><rect class="n" x="888" y="647" width="46" height="20.500" rx="4"/><text class="nt" x="911" y="656.500" style="font-size:3.500px">Discounted Grid is printed</text><text class="nt" x="911" y="660.500" style="font-size:3.500px">and attached to inventory</text></g>
<g id="d-second"><path class="n" d="M750 714L776 738L750 762L724 738z"/><text class="nt" x="750" y="734" style="font-size:2px">Does the product</text><text class="nt" x="750" y="737" style="font-size:2px">need any new tags</text><text class="nt" x="750" y="740" style="font-size:2px">Unknown, Ticketa ablets</text><text class="nt" x="750" y="743" style="font-size:2px">etc?</text></g>
<g id="n-inventory"><rect class="n" x="801" y="728" width="45" height="20.500" rx="4"/><text class="nt" x="823.500" y="737" style="font-size:3.500px">Inventory is returned to</text><text class="nt" x="823.500" y="741.500" style="font-size:3.500px">the Sales Floor</text></g>
<g id="n-retag"><rect class="n" x="730" y="779" width="45" height="20.500" rx="4"/><text class="nt" x="752.500" y="791" style="font-size:3.500px">Re-Tagged Product</text></g>

<g id="stickies-left">
<rect class="sg" x="132" y="691" width="28" height="30"/><text class="sx" x="146" y="697" style="font-size:2.800px">Teammate</text><text class="sx" x="146" y="701" style="font-size:2.800px">Training</text><text class="sx" x="146" y="705" style="font-size:2.800px">Frameworks</text><text class="sx" x="146" y="709" style="font-size:2.800px">to translate in</text><text class="sx" x="146" y="713" style="font-size:2.800px">handling the</text><text class="sx" x="146" y="717" style="font-size:2.800px">returns</text>
<rect class="sy" x="160" y="677" width="29" height="29"/><text class="sx" x="174.500" y="682.500">Extended</text><text class="sx" x="174.500" y="687">Return to</text><text class="sx" x="174.500" y="691.500">beyond 90s</text><text class="sx" x="174.500" y="696">(with Manager</text><text class="sx" x="174.500" y="700.500">Override)</text>
<rect class="sy" x="160" y="708" width="29" height="30"/><text class="sx" x="174.500" y="713" style="font-size:2.600px">Sometimes no</text><text class="sx" x="174.500" y="717" style="font-size:2.600px">receipt/a path in</text><text class="sx" x="174.500" y="721" style="font-size:2.600px">combination with</text><text class="sx" x="174.500" y="725" style="font-size:2.600px">my fault &amp; History</text><text class="sx" x="174.500" y="729" style="font-size:2.600px">correct item</text><text class="sx" x="174.500" y="733" style="font-size:2.600px">based returns</text>
<rect class="st" x="266" y="685" width="29" height="30"/><path class="bars" d="M271 690H291M273 693H288M270 696H291M271 699H290M270 702H291M272 705H289M272 708H288"/>
<rect class="sg" x="299" y="684" width="29" height="29"/><text class="sx" x="313.500" y="692.500">Disposition of</text><text class="sx" x="313.500" y="697.500">inventory to</text><text class="sx" x="313.500" y="702.500">guide return</text><text class="sx" x="313.500" y="707.500">on systems</text>
<rect class="sg" x="229" y="712" width="29" height="30"/><text class="sx5" x="243.500" y="723">NSPP Policy</text><text class="sx5" x="243.500" y="729">to guide</text><text class="sx5" x="243.500" y="735">Teammate</text>
<rect class="sy" x="261" y="718" width="29" height="30"/><text class="sx" x="275.500" y="727" style="font-size:2.800px">Service if any</text><text class="sx" x="275.500" y="731" style="font-size:2.800px">returns fixed</text><text class="sx" x="275.500" y="735" style="font-size:2.800px">credit on items</text><text class="sx" x="275.500" y="739" style="font-size:2.800px">back in the Dick</text><text class="sx" x="275.500" y="743" style="font-size:2.800px">Warranty system</text>
<rect class="sy" x="294" y="719" width="29" height="30"/><text class="sx" x="308.500" y="727" style="font-size:2.800px">I believe to be</text><text class="sx" x="308.500" y="731" style="font-size:2.800px">not evaluated</text><text class="sx" x="308.500" y="735" style="font-size:2.800px">the mid-statuses</text><text class="sx" x="308.500" y="739" style="font-size:2.800px">due to this in</text><text class="sx" x="308.500" y="743" style="font-size:2.800px">vain in order</text>
<rect class="st" x="232" y="753" width="29" height="30"/><text class="sx" x="246.500" y="759" style="font-size:3px">Shift Pricing to</text><text class="sx" x="246.500" y="763.500" style="font-size:3px">after the</text><text class="sx" x="246.500" y="768" style="font-size:3px">manufacturer</text><text class="sx" x="246.500" y="772.500" style="font-size:3px">warranty to</text><text class="sx" x="246.500" y="777" style="font-size:3px">conclude</text>
<rect class="sy" x="268" y="753" width="29" height="29"/><path class="bars" d="M274 758H291M273 761H292M272 764H293M271 767H294M271 770H294M273 773H292M274 776H290"/>
</g>
<g id="stickies-mid">
<rect class="sg" x="415" y="690" width="28" height="28"/><path class="bars" d="M421 695H437M423 698H436M418 701H440M423 704H436M425 707H433M424 710H434M420 713H438M426 716H432"/>
<rect class="sg" x="447" y="694" width="28" height="28"/><text class="sx" x="461" y="700" style="font-size:2.800px">Not aware even</text><text class="sx" x="461" y="704" style="font-size:2.800px">when I'm logged</text><text class="sx" x="461" y="708" style="font-size:2.800px">struggles since</text><text class="sx" x="461" y="712" style="font-size:2.800px">they pop up in</text><text class="sx" x="461" y="716" style="font-size:2.800px">the process</text>
<rect class="sg" x="422" y="752" width="28" height="30"/><text class="sx" x="436" y="758" style="font-size:2.600px">Supervisors with</text><text class="sx" x="436" y="762" style="font-size:2.600px">the remaining line</text><text class="sx" x="436" y="766" style="font-size:2.600px">by looked for info</text><text class="sx" x="436" y="770" style="font-size:2.600px">Lost in the tag</text><text class="sx" x="436" y="774" style="font-size:2.600px">damaged claimed</text><text class="sx" x="436" y="778" style="font-size:2.600px">on account</text>
<rect class="sg" x="454" y="771" width="29" height="30"/><path class="bars" d="M458 775H479M458 778H479M459 781H478M457 784H480M457 787H480M458 790H479M458 793H479M459 796H478"/>
<rect class="sy" x="515" y="607" width="29" height="29"/><text class="sx5" x="529.500" y="614" style="font-size:4.500px">Tax</text><text class="sx5" x="529.500" y="620" style="font-size:4.500px">Differences</text><text class="sx5" x="529.500" y="626" style="font-size:4.500px">with Even</text><text class="sx5" x="529.500" y="632" style="font-size:4.500px">Exchanges</text>
<rect class="sy" x="501" y="753" width="29" height="29"/><text class="sx5" x="515.500" y="765" style="font-size:7px">Lowest</text><text class="sx5" x="515.500" y="775" style="font-size:7px">Price</text>
<rect class="sy" x="533" y="753" width="29" height="29"/><text class="sx5" x="547.500" y="762" style="font-size:5px">Different</text><text class="sx5" x="547.500" y="769" style="font-size:5px">price on</text><text class="sx5" x="547.500" y="776" style="font-size:4.500px">Legacy/02</text>
</g>
<g id="stickies-right">
<rect class="sg" x="601" y="589" width="29" height="30"/><path class="bars" d="M606 594H625M607 597H624M606 600H625M605 603H626M608 606H623M605 609H626M607 612H624M609 615H622"/>
<rect class="sg" x="601" y="623" width="29" height="30"/><text class="sx" x="615.500" y="629" style="font-size:2.600px">Relationship team</text><text class="sx" x="615.500" y="633" style="font-size:2.600px">works by the</text><text class="sx" x="615.500" y="637" style="font-size:2.600px">handling any on</text><text class="sx" x="615.500" y="641" style="font-size:2.600px">all inventories</text><text class="sx" x="615.500" y="645" style="font-size:2.600px">hand by especially</text><text class="sx" x="615.500" y="649" style="font-size:2.600px">one in RMS</text>
<rect class="sy" x="601" y="661" width="29" height="30"/><text class="sx" x="615.500" y="667" style="font-size:2.600px">Inventory is not</text><text class="sx" x="615.500" y="671" style="font-size:2.600px">currently</text><text class="sx" x="615.500" y="675" style="font-size:2.600px">determined in a</text><text class="sx" x="615.500" y="679" style="font-size:2.600px">custom make</text><text class="sx" x="615.500" y="683" style="font-size:2.600px">designer to</text><text class="sx" x="615.500" y="687" style="font-size:2.600px">package</text>
<rect class="sy" x="601" y="696" width="29" height="30"/><text class="sx" x="615.500" y="703" style="font-size:2.600px">Memory is using</text><text class="sx" x="615.500" y="707" style="font-size:2.600px">integrally could</text><text class="sx" x="615.500" y="711" style="font-size:2.600px">inefficiency</text><text class="sx" x="615.500" y="715" style="font-size:2.600px">possibility</text><text class="sx" x="615.500" y="719" style="font-size:2.600px">recycle site</text>
<rect class="sg" x="638" y="588" width="29" height="29"/><text class="sx" x="652.500" y="596">RTV, Quesams</text><text class="sx" x="652.500" y="601">Have to hold</text><text class="sx" x="652.500" y="606">and fix/move</text><text class="sx" x="652.500" y="611">inventory</text>
<rect class="sg" x="672" y="590" width="29" height="29"/><text class="sx" x="686.500" y="598">Ability to print</text><text class="sx" x="686.500" y="603">a ' and' on RTV</text><text class="sx" x="686.500" y="608">label so we</text><text class="sx" x="686.500" y="613">can track</text>
<rect class="sy" x="734" y="597" width="28" height="30"/><text class="sx" x="748" y="603">RTL sorting</text><text class="sx" x="748" y="608">through units</text><text class="sx" x="748" y="613">to determine</text><text class="sx" x="748" y="618">classification</text><text class="sx" x="748" y="623">of inventory</text>
<rect class="sy" x="697" y="748" width="28" height="30"/><text class="sx" x="711" y="756">Is this</text><text class="sx" x="711" y="761">systemically</text><text class="sx" x="711" y="766">maintained</text><text class="sx" x="711" y="771">anywhere?</text>
<rect class="sy" x="893" y="612" width="29" height="30"/><text class="sx" x="907.500" y="620">Does not print</text><text class="sx" x="907.500" y="625">such all the</text><text class="sx" x="907.500" y="630">information</text><text class="sx" x="907.500" y="635">we need</text>
<g id="avatar-k"><circle cx="709" cy="588" r="9" fill="#f5c518" stroke="#3a5de8" stroke-width="2"/><text x="709" y="592" text-anchor="middle" font-size="9" font-weight="700" fill="#222">K</text><circle cx="717" cy="582" r="4.500" fill="#3a5de8"/><text x="717" y="584.500" text-anchor="middle" font-size="6" font-weight="700" fill="#fff">1</text></g>
</g>
<g id="legend-stickies">
<text class="sub" x="48" y="872" textLength="47">Data Drivers</text>
<text class="sub" x="276" y="872" textLength="52">Opportunities</text>
<text class="sub" x="520" y="872" textLength="36">Questions</text>
<rect class="sy" x="45" y="881" width="30" height="29"/><text class="sx" x="60" y="889" style="font-size:2.800px">At times</text><text class="sx" x="60" y="893" style="font-size:2.800px">Scanners</text><text class="sx" x="60" y="897" style="font-size:2.800px">RVCR drivers</text><text class="sx" x="60" y="901" style="font-size:2.800px">Remote</text><text class="sx" x="60" y="905" style="font-size:2.800px">enabler</text>
<rect class="sy" x="79.500" y="881" width="30" height="29"/><text class="sx" x="94.500" y="886" style="font-size:2.800px">Retailers gain</text><text class="sx" x="94.500" y="890" style="font-size:2.800px">in selling</text><text class="sx" x="94.500" y="894" style="font-size:2.800px">from in</text><text class="sx" x="94.500" y="898" style="font-size:2.800px">inventory that</text><text class="sx" x="94.500" y="902" style="font-size:2.800px">can also</text><text class="sx" x="94.500" y="906" style="font-size:2.800px">optimize</text>
<rect class="sg" x="276" y="881" width="29" height="29"/>
<rect class="sp" x="521" y="881" width="29" height="29"/>
</g>
</g>

<g id="workshops" filter="url(#b)" clip-path="url(#wclip)">
<rect x="992" y="557" width="287" height="421" fill="#f3f3f3"/><rect x="992" y="557" width="287" height="421" fill="url(#grid)"/>
<rect x="1112" y="557" width="22" height="10" rx="2" fill="#fff"/><circle cx="1115" cy="561" r="1.200" fill="#5a6ee0"/><text class="wt" x="1118" y="561">Template note</text>
<text class="gt" x="1013" y="574">Breakout Group 1</text>
<g id="board-1">
<rect x="1014" y="579" width="259" height="187" fill="#fff"/>
<text class="bk" x="1016" y="586">BREAKOUT GROUP 1</text><text class="wt" x="1017" y="591.500" style="font-size:2.400px">Team Dick's: Kacey, Chris, Kim Zim, Trevis, John, Keith, Kevin, Sandy</text>
<g class="ly"><rect x="1071" y="580.500" width="7" height="8"/><rect x="1079" y="580.500" width="7" height="8"/><rect x="1090" y="580.500" width="7" height="8"/><rect x="1099" y="580.500" width="7" height="8"/><rect x="1108" y="580.500" width="7" height="8"/></g>
<g class="gb"><path d="M1022 599H1046L1048.500 604L1046 609H1022z"/><path d="M1022 616H1046L1048.500 621.500L1046 627H1022z"/><path d="M1022 635H1046L1048.500 650L1046 665H1022z"/><path d="M1022 668H1046L1048.500 687L1046 707H1022z"/><path d="M1022 711H1046L1048.500 730L1046 749H1022z"/></g>
<path d="M1034 609V616M1034 627V635M1034 665V668M1034 707V711" stroke="#aaa" stroke-width=".4"/>
<text class="wh" x="1024" y="603">Scope of Workshop</text><text class="wh" x="1024" y="620">Personas</text><text class="wh" x="1024" y="639">Journey Stages</text><text class="wh" x="1024" y="672">Pain Points</text><text class="wh" x="1024" y="715">Opportunities</text>
<text class="wt" x="1053" y="600.500">Existing Process - the process flow of the team's journey</text><text class="wt" x="1053" y="603.500">Current Breakdown, stages along the journey at each step</text><text class="wt" x="1053" y="606.500">of the process</text>
<rect x="1093" y="614" width="25" height="13" rx="1" fill="#f2f2f2"/><rect x="1122" y="614" width="25" height="13" rx="1" fill="#f2f2f2"/><rect x="1150" y="614" width="25" height="13" rx="1" fill="#f2f2f2"/>
<text class="wt" x="1061" y="617.500">Actions</text><text class="wt" x="1064" y="621">Review the process</text><text class="wt" x="1064" y="624">Discuss steps</text><text class="wt" x="1095" y="617.500">Key Questions</text><text class="wt" x="1124" y="617.500">Information</text><text class="wt" x="1152" y="617.500">Data</text>
<g class="chev"><path d="M1062 629H1110L1112 632L1110 635H1062z"/><path d="M1113 629H1167L1169 632L1167 635H1113z"/><path d="M1170 629H1229L1231 632L1229 635H1170z"/><path d="M1233 629H1265L1267 632L1265 635H1233z"/></g>
<g class="row"><rect x="1062" y="637" width="204" height="13"/><rect x="1062" y="651" width="204" height="14"/><rect x="1062" y="669" width="204" height="14"/><rect x="1062" y="684" width="204" height="14"/><rect x="1062" y="712" width="204" height="13"/><rect x="1062" y="727" width="204" height="13"/></g>
<g class="wc"><rect x="1073" y="640" width="16" height="8"/><rect x="1112" y="641" width="22" height="7"/><rect x="1171" y="641" width="22" height="7"/><rect x="1194" y="641" width="22" height="7"/><rect x="1241" y="640" width="22" height="8"/><rect x="1073" y="654" width="16" height="8"/><rect x="1112" y="654" width="22" height="7"/><rect x="1138" y="648" width="22" height="8"/><rect x="1163" y="653" width="22" height="8"/><rect x="1188" y="653" width="22" height="8"/><rect x="1214" y="653" width="21" height="8"/><rect x="1241" y="653" width="22" height="8"/></g>
<path d="M1075 642H1085M1075 644H1082M1114 643H1130M1114 645H1124M1173 643H1190M1173 645H1182M1196 643H1212M1243 642H1259M1243 644H1250M1075 656H1086M1114 656H1130M1140 650H1157M1140 652H1150M1165 655H1182M1190 655H1207M1216 655H1230M1243 655H1260" stroke="#aaa" stroke-width=".5"/>
<g class="ly"><rect x="1092" y="672" width="7" height="8"/><rect x="1100" y="671" width="7" height="8"/><rect x="1100" y="679" width="7" height="7"/><rect x="1109" y="679" width="7" height="7"/><rect x="1165" y="673" width="7" height="7"/><rect x="1173" y="673" width="7" height="7"/><rect x="1182" y="673" width="7" height="7"/><rect x="1207" y="667" width="7" height="8"/><rect x="1217" y="673" width="7" height="7"/><rect x="1227" y="673" width="7" height="7"/><rect x="1237" y="673" width="7" height="7"/><rect x="1247" y="674" width="7" height="7"/>
<rect x="1090" y="687" width="7" height="8"/><rect x="1098" y="687" width="7" height="8"/><rect x="1134" y="685" width="7" height="8"/><rect x="1165" y="686" width="7" height="7"/><rect x="1173" y="686" width="7" height="7"/><rect x="1191" y="686" width="7" height="7"/><rect x="1245" y="685" width="7" height="7"/><rect x="1252" y="685" width="7" height="7"/><rect x="1259" y="691" width="7" height="7"/></g>
<rect class="dy" x="1189" y="672" width="13" height="8.500"/><rect class="dy" x="1074" y="687" width="13" height="8.500"/>
<g class="pk"><rect x="1073" y="715" width="12.500" height="8.500"/><rect x="1088" y="715" width="12.500" height="8.500"/><rect x="1102" y="715" width="12.500" height="8.500"/></g>
<g class="wt" style="font-size:1.600px"><text transform="translate(1054 660)rotate(-90)">Journey Stage</text><text transform="translate(1054 695)rotate(-90)">Pain Points</text><text transform="translate(1054 738)rotate(-90)">Opportunities</text></g>
</g>
<text class="gt" x="1013" y="781">Breakout Group 2</text>
<g id="board-2">
<rect x="1014" y="787" width="259" height="187" fill="#fff"/>
<text class="bk" x="1018" y="793">BREAKOUT GROUP 2</text><text class="wt" x="1017" y="798.500" style="font-size:2.400px">Team Dick's: Sanjay, Meghan, Chris, Manny, Kathy, Shelly, Mary</text>
<rect class="ly" x="1071" y="788" width="7" height="8"/><rect class="ly" x="1079" y="788" width="7" height="8"/>
<g class="ly"><rect x="1139" y="807" width="13" height="8.500"/><rect x="1155" y="807" width="13" height="8.500"/><rect x="1170" y="807" width="13" height="8.500"/><rect x="1184" y="807" width="13" height="8.500"/></g>
<path d="M1141 809H1150M1141 811H1150M1141 813H1148" stroke="#9a9a60" stroke-width=".5"/>
<rect class="or" x="1149" y="775" width="28" height="28"/><path d="M1153 781H1173M1153 791H1173M1153 793H1173M1157 796H1167" stroke="#a85a20" stroke-width=".6"/>
<g class="gb"><path d="M1022 806H1046L1048.500 811.500L1046 817H1022z"/><path d="M1022 824H1046L1048.500 829L1046 834H1022z"/><path d="M1022 843H1046L1048.500 855L1046 868H1022z"/><path d="M1022 876H1046L1048.500 895L1046 914H1022z"/><path d="M1022 918H1046L1048.500 937L1046 957H1022z"/></g>
<path d="M1034 817V824M1034 834V843M1034 868V876M1034 914V918" stroke="#aaa" stroke-width=".4"/>
<text class="wh" x="1024" y="810">Scope of Workshop</text><text class="wh" x="1024" y="828">Personas</text><text class="wh" x="1024" y="847">Journey Stages</text><text class="wh" x="1024" y="880">Pain Points</text><text class="wh" x="1024" y="922">Opportunities</text>
<text class="wt" x="1053" y="808">Existing Process - the process flow of the team's journey</text><text class="wt" x="1053" y="811">Current Breakdown, stages along the journey at each step</text><text class="wt" x="1053" y="814">of the process</text>
<rect x="1093" y="822" width="25" height="13" rx="1" fill="#f2f2f2"/><rect x="1122" y="822" width="25" height="13" rx="1" fill="#f2f2f2"/><rect x="1150" y="822" width="25" height="13" rx="1" fill="#f2f2f2"/>
<text class="wt" x="1061" y="825">Actions</text><text class="wt" x="1064" y="828.500">Review the process</text><text class="wt" x="1064" y="831.500">Discuss steps</text><text class="wt" x="1095" y="825">Key Questions</text><text class="wt" x="1124" y="825">Information</text><text class="wt" x="1152" y="825">Data</text>
<g class="chev"><path d="M1062 837H1110L1112 840L1110 843H1062z"/><path d="M1113 837H1167L1169 840L1167 843H1113z"/><path d="M1170 837H1229L1231 840L1229 843H1170z"/><path d="M1233 837H1265L1267 840L1265 843H1233z"/></g>
<g class="row"><rect x="1062" y="844" width="204" height="14"/><rect x="1062" y="859" width="204" height="13"/><rect x="1062" y="877" width="204" height="13"/><rect x="1062" y="892" width="204" height="13"/><rect x="1062" y="919" width="204" height="14"/><rect x="1062" y="934" width="204" height="13"/></g>
<g class="wc"><rect x="1073" y="848" width="16" height="8"/><rect x="1112" y="847" width="22" height="8"/><rect x="1171" y="847" width="22" height="8"/><rect x="1194" y="847" width="22" height="8"/><rect x="1241" y="847" width="22" height="8"/><rect x="1073" y="862" width="16" height="8"/><rect x="1112" y="862" width="22" height="8"/><rect x="1138" y="855" width="22" height="8"/><rect x="1163" y="861" width="22" height="8"/><rect x="1188" y="861" width="22" height="8"/><rect x="1214" y="861" width="21" height="8"/><rect x="1241" y="861" width="22" height="8"/></g>
<path d="M1075 850H1085M1114 849H1130M1173 850H1190M1196 850H1212M1243 850H1259M1075 864H1086M1114 864H1130M1140 857H1157M1165 863H1182M1190 863H1207M1216 863H1230M1243 863H1260" stroke="#aaa" stroke-width=".5"/>
<path d="M1148 863V892M1123 885L1127 895M1197 905L1192 923" stroke="#ccc" stroke-width=".5"/>
<g class="dy"><rect x="1075" y="879" width="13" height="8.500"/><rect x="1089" y="879" width="13" height="8.500"/><rect x="1103" y="879" width="13" height="8.500"/><rect x="1122" y="878" width="13" height="8.500"/><rect x="1173" y="879" width="13" height="8.500"/><rect x="1203" y="880" width="13" height="8.500"/><rect x="1112" y="885" width="8" height="5"/>
<rect x="1075" y="895" width="13" height="8.500"/><rect x="1117" y="896" width="13" height="8.500"/><rect x="1130" y="895" width="9" height="5.500"/><rect x="1142" y="895" width="13" height="8.500"/><rect x="1167" y="895" width="13" height="8.500"/><rect x="1183" y="895" width="13" height="8.500"/></g>
<g class="or"><rect x="1092" y="844" width="5" height="6"/><rect x="1092" y="863" width="10" height="6"/><rect x="1126" y="900" width="5" height="6"/><rect x="1191" y="902" width="9" height="6"/><rect x="1198" y="927" width="5" height="6"/><rect x="1062" y="919" width="9" height="6"/></g>
<rect class="ly" x="1089" y="851" width="8" height="6"/>
<g class="pk"><rect x="1073" y="923" width="13" height="8.500"/><rect x="1108" y="923" width="13" height="8.500"/><rect x="1132" y="923" width="13" height="8"/><rect x="1145" y="923" width="13" height="8"/><rect x="1163" y="923" width="13" height="8.500"/><rect x="1186" y="923" width="13" height="8.500"/><rect x="1234" y="922" width="13" height="8.500"/><rect x="1250" y="923" width="13" height="8.500"/><rect x="1073" y="937" width="13" height="8.500"/></g>
<g class="or"><rect x="1062" y="954" width="11" height="7.500"/><rect x="1074" y="955" width="11" height="7.500"/><rect x="1087" y="955" width="11" height="7.500"/></g>
<rect x="1067" y="962" width="7" height="7" fill="#b6d436"/><rect x="1085" y="963" width="7" height="7" fill="#d4ef8e"/>
<rect x="1114" y="954" width="7" height="7.500" fill="#c6a5dc"/><rect x="1122" y="954" width="7" height="7.500" fill="#c6a5dc"/>
<g class="wt" style="font-size:1.600px"><text transform="translate(1054 867)rotate(-90)">Journey Stage</text><text transform="translate(1054 902)rotate(-90)">Pain Points</text><text transform="translate(1054 945)rotate(-90)">Opportunities</text></g>
</g>
<text class="gt" x="1013" y="985">Breakout Group 3</text>
</g>
</svg>
